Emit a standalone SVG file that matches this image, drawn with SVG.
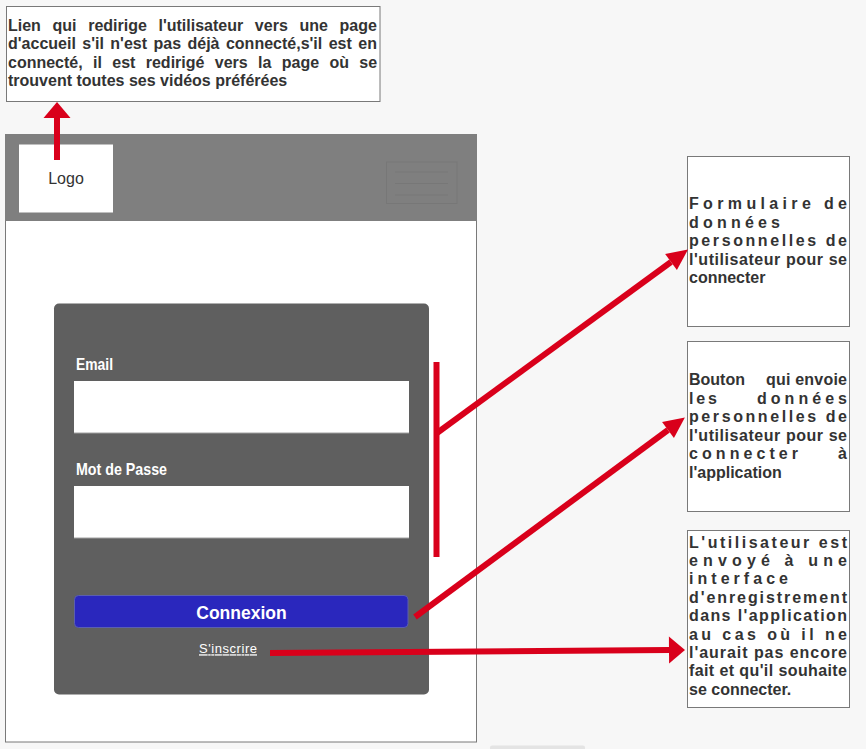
<svg xmlns="http://www.w3.org/2000/svg" width="866" height="749" viewBox="0 0 866 749">
<defs>
<style>
.note{fill:#fff;stroke:#797979;stroke-width:1}
.nt{font-family:"Liberation Sans",Arial,sans-serif;font-size:16px;font-weight:bold;fill:#333}
.red{stroke:#d9001b;stroke-width:6;fill:none}
.lbl{font-family:"Liberation Sans",Arial,sans-serif;font-weight:bold;font-size:17px;fill:#fff}
.field{fill:#fff;stroke:#b5b5b5;stroke-width:0}
</style>
<marker id="headA" markerUnits="userSpaceOnUse" orient="auto" markerWidth="22" markerHeight="24" viewBox="0 -12 22 24" refX="0" refY="0" overflow="visible">
<path d="M0,-10 L21,0 L0,10 z" fill="#d9001b"/>
</marker>
<marker id="headB" markerUnits="userSpaceOnUse" orient="auto" markerWidth="18" markerHeight="30" viewBox="0 -15 18 30" refX="0" refY="0" overflow="visible">
<path d="M0,-13.5 L16,0 L0,13.5 z" fill="#d9001b"/>
</marker>
</defs>
<rect x="0" y="0" width="866" height="749" fill="#f7f7f7"/>
<rect x="490" y="745.5" width="95" height="6" rx="2" fill="#e4e4e4"/>

<g id="note-logo">
<rect class="note" x="6.5" y="6.5" width="373.5" height="95"/>
<text class="nt">
<tspan x="8" y="31" word-spacing="7.2">Lien qui redirige l'utilisateur vers une page</tspan>
<tspan x="8" y="49.3" word-spacing="2">d'accueil s'il n'est pas déjà connecté,s'il est en</tspan>
<tspan x="8" y="67.6" word-spacing="5.9">connecté, il est redirigé vers la page où se</tspan>
<tspan x="8" y="86">trouvent toutes ses vidéos préférées</tspan>
</text>
</g>

<g id="page">
<rect x="5.5" y="134.5" width="471" height="607.5" fill="#fff" stroke="#797979" stroke-width="1"/>
<rect x="5" y="134" width="472" height="87" fill="#7f7f7f"/>
</g>

<g id="logo">
<rect x="19" y="144.5" width="94" height="68" fill="#fff"/>
<text x="66" y="184" text-anchor="middle" font-family="'Liberation Sans',Arial,sans-serif" font-size="16" fill="#333">Logo</text>
</g>

<g id="menu" opacity="0.2">
<rect x="386.5" y="162" width="70.5" height="41.5" fill="none" stroke="#5a5a5a" stroke-width="1"/>
<line x1="395" y1="172" x2="448" y2="172" stroke="#5a5a5a" stroke-width="1"/>
<line x1="395" y1="183.5" x2="448" y2="183.5" stroke="#5a5a5a" stroke-width="1"/>
<line x1="395" y1="195" x2="448" y2="195" stroke="#5a5a5a" stroke-width="1"/>
</g>

<g id="login-form">
<rect x="54" y="303.5" width="375" height="391" rx="5" fill="#5f5f5f"/>
<text class="lbl" x="76" y="369.5" textLength="37" lengthAdjust="spacingAndGlyphs">Email</text>
<rect class="field" x="74" y="381" width="335" height="52"/>
<line x1="74" y1="433" x2="409" y2="433" stroke="#a0a0a0" stroke-width="1"/>
<text class="lbl" x="76" y="475" textLength="91" lengthAdjust="spacingAndGlyphs">Mot de Passe</text>
<rect class="field" x="74" y="486" width="335" height="52"/>
<line x1="74" y1="538" x2="409" y2="538" stroke="#a0a0a0" stroke-width="1"/>
</g>

<g id="btn-connexion">
<rect x="74.5" y="595.5" width="333.5" height="32" rx="4" fill="#2a27bd" stroke="#5b5fb0" stroke-width="1"/>
<text x="241.5" y="619" text-anchor="middle" font-family="'Liberation Sans',Arial,sans-serif" font-size="17.5" font-weight="bold" fill="#fff">Connexion</text>
</g>

<g id="link-inscrire">
<text x="199" y="653.3" font-family="'Liberation Sans',Arial,sans-serif" font-size="13" fill="#fff" text-decoration="underline" textLength="58" lengthAdjust="spacing">S'inscrire</text>
</g>

<g id="note-form">
<rect class="note" x="687.5" y="156.5" width="162" height="170"/>
<text class="nt">
<tspan x="689" y="209" textLength="158" lengthAdjust="spacing">Formulaire de</tspan>
<tspan x="689" y="227.5" textLength="91" lengthAdjust="spacing">données</tspan>
<tspan x="689" y="246" textLength="158" lengthAdjust="spacing">personnelles de</tspan>
<tspan x="689" y="264.5" textLength="158" lengthAdjust="spacing">l'utilisateur pour se</tspan>
<tspan x="689" y="283">connecter</tspan>
</text>
</g>

<g id="note-button">
<rect class="note" x="687.5" y="341.5" width="162" height="170"/>
<text class="nt">
<tspan x="689" y="385">Bouton</tspan>
<tspan x="766" y="385" textLength="81" lengthAdjust="spacing">qui envoie</tspan>
<tspan x="689" y="403.5" textLength="28" lengthAdjust="spacing">les</tspan>
<tspan x="757" y="403.5" textLength="90" lengthAdjust="spacing">données</tspan>
<tspan x="689" y="422" textLength="158" lengthAdjust="spacing">personnelles de</tspan>
<tspan x="689" y="440.5" textLength="158" lengthAdjust="spacing">l'utilisateur pour se</tspan>
<tspan x="689" y="459" textLength="109" lengthAdjust="spacing">connecter</tspan>
<tspan x="838" y="459">à</tspan>
<tspan x="689" y="477.5">l'application</tspan>
</text>
</g>

<g id="note-inscrire">
<rect class="note" x="687.5" y="530.5" width="162" height="177"/>
<text class="nt">
<tspan x="689" y="547.5" textLength="158" lengthAdjust="spacing">L'utilisateur est</tspan>
<tspan x="689" y="565.9" textLength="158" lengthAdjust="spacing">envoyé à une</tspan>
<tspan x="689" y="584.3" textLength="99" lengthAdjust="spacing">interface</tspan>
<tspan x="689" y="602.7" textLength="158" lengthAdjust="spacing">d'enregistrement</tspan>
<tspan x="689" y="621.1" textLength="158" lengthAdjust="spacing">dans l'application</tspan>
<tspan x="689" y="639.5" textLength="158" lengthAdjust="spacing">au cas où il ne</tspan>
<tspan x="689" y="657.9" textLength="158" lengthAdjust="spacing">l'aurait pas encore</tspan>
<tspan x="689" y="676.3" textLength="158" lengthAdjust="spacing">fait et qu'il souhaite</tspan>
<tspan x="689" y="694.7">se connecter.</tspan>
</text>
</g>

<g id="connectors">
<line class="red" x1="57" y1="160" x2="57" y2="118" marker-end="url(#headB)"/>
<line class="red" x1="436.5" y1="362" x2="436.5" y2="557" stroke-width="7"/>
<line class="red" x1="437" y1="433" x2="671" y2="262" marker-end="url(#headA)"/>
<line class="red" x1="415" y1="617" x2="668" y2="430" marker-end="url(#headA)"/>
<line class="red" x1="270" y1="653" x2="669" y2="650" marker-end="url(#headB)"/>
</g>
</svg>
